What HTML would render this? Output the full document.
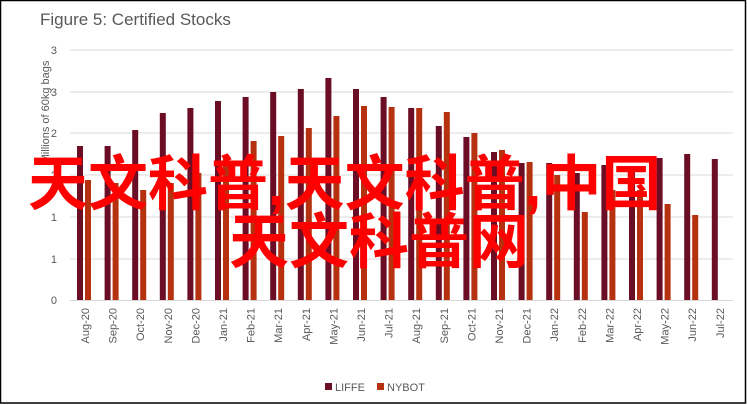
<!DOCTYPE html>
<html><head><meta charset="utf-8"><style>
html,body{margin:0;padding:0;background:#fff;}
svg{display:block;}
</style></head><body>
<svg width="747" height="405" xmlns="http://www.w3.org/2000/svg" font-family="Liberation Sans, sans-serif">
<rect x="0.5" y="0.5" width="745" height="402.5" fill="#fff" stroke="#000" stroke-width="1.5"/>
<text x="40" y="25" font-size="17" fill="#595959">Figure 5: Certified Stocks</text>
<g stroke="#d9d9d9" stroke-width="1">
<line x1="70" y1="50" x2="733" y2="50"/><line x1="70" y1="92" x2="733" y2="92"/><line x1="70" y1="133" x2="733" y2="133"/><line x1="70" y1="175" x2="733" y2="175"/><line x1="70" y1="217" x2="733" y2="217"/><line x1="70" y1="259" x2="733" y2="259"/><line x1="70" y1="300.5" x2="733" y2="300.5"/>
</g>
<g font-size="11" fill="#595959" text-anchor="end">
<text x="57" y="54">3</text><text x="57" y="96">3</text><text x="57" y="137">2</text><text x="57" y="179">2</text><text x="57" y="221">1</text><text x="57" y="263">1</text><text x="57" y="304">0</text>
</g>
<text transform="translate(49,112) rotate(-90)" font-size="11" fill="#595959" text-anchor="middle">Millions of 60kg bags</text>
<g id="bars"></g>
<g id="labels" font-size="11" fill="#595959" text-anchor="end"></g>
<rect x="325" y="383" width="7" height="7" fill="#6b0d24"/><text x="335" y="391" font-size="11" fill="#595959">LIFFE</text>
<rect x="377" y="383" width="7" height="7" fill="#b5310f"/><text x="387" y="391" font-size="11" fill="#595959">NYBOT</text>
<g font-family="Liberation Sans, Noto Sans CJK SC, sans-serif" font-weight="bold" font-size="60" fill="#ff0000">
<text x="28" y="205">天文科普,天文科普,中国</text>
<text x="229" y="263">天文科普网</text>
</g>
</svg>
<script>
var m=["Aug-20","Sep-20","Oct-20","Nov-20","Dec-20","Jan-21","Feb-21","Mar-21","Apr-21","May-21","Jun-21","Jul-21","Aug-21","Sep-21","Oct-21","Nov-21","Dec-21","Jan-22","Feb-22","Mar-22","Apr-22","May-22","Jun-22","Jul-22"];
var L=[146,146,130,113,108,101,97,92,89,78,89,97,108,126,137,152,163,163,173,165,171,158,154,159];
var N=[180,183,190,183,173,155,141,136,128,116,106,107,108,112,133,150,162,175,212,190,190,204,215,null];
var b='',t='';
for(var i=0;i<24;i++){var c=85+i*27.6;
b+='<rect x="'+(c-8)+'" y="'+L[i]+'" width="6" height="'+(300-L[i])+'" fill="#6b0d24"/>';
if(N[i])b+='<rect x="'+c+'" y="'+N[i]+'" width="6" height="'+(300-N[i])+'" fill="#b5310f"/>';
t+='<text transform="translate('+(c+4)+',308) rotate(-90)">'+m[i]+'</text>';}
document.getElementById('bars').innerHTML=b;
document.getElementById('labels').innerHTML=t;
</script>
</body></html>
